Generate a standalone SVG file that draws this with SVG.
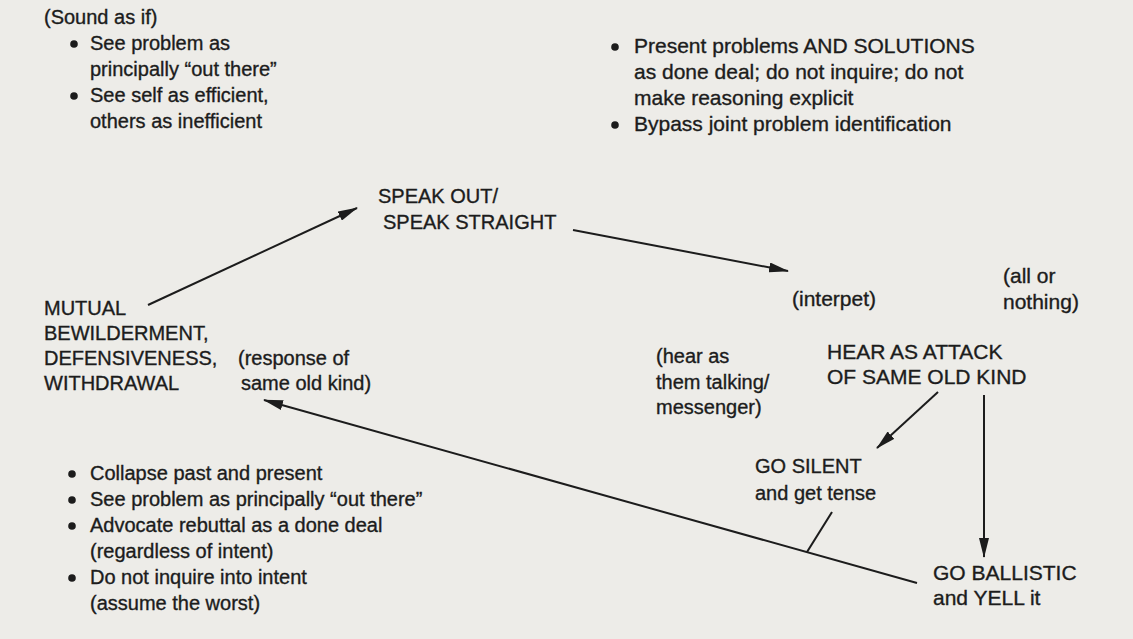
<svg xmlns="http://www.w3.org/2000/svg" width="1133" height="639" viewBox="0 0 1133 639">
<style>
text{font-family:"Liberation Sans",Arial,sans-serif;font-size:20px;fill:#1c1c1c;stroke:#1c1c1c;stroke-width:0.35}
.big{font-size:21px}
.ln{stroke:#1c1c1c;stroke-width:2;fill:none}
.dot{fill:#1c1c1c}
</style>
<defs>
<marker id="ah" viewBox="0 0 20 10" refX="19" refY="5" markerWidth="20" markerHeight="10" markerUnits="userSpaceOnUse" orient="auto">
<path d="M0,0 L20,5 L0,10 Z" fill="#1c1c1c"/>
</marker>
</defs>
<rect width="1133" height="639" fill="#edece8"/>
<g id="sound-as-if">
<text x="44" y="24">(Sound as if)</text>
<circle class="dot" cx="74" cy="44" r="3.8"/>
<text x="90" y="50">See problem as</text>
<text x="90" y="76">principally “out there”</text>
<circle class="dot" cx="74" cy="96" r="3.8"/>
<text x="90" y="102">See self as efficient,</text>
<text x="90" y="128">others as inefficient</text>
</g>
<g id="present-problems" class="big">
<circle class="dot" cx="615" cy="47" r="3.8"/>
<text class="big" x="634" y="53">Present problems AND SOLUTIONS</text>
<text class="big" x="634" y="79">as done deal; do not inquire; do not</text>
<text class="big" x="634" y="105">make reasoning explicit</text>
<circle class="dot" cx="615" cy="125" r="3.8"/>
<text class="big" x="634" y="131">Bypass joint problem identification</text>
</g>
<g id="speak-out">
<text x="378" y="203">SPEAK OUT/</text>
<text x="383" y="229">SPEAK STRAIGHT</text>
</g>
<g id="interpret">
<text class="big" x="792" y="306">(interpet)</text>
</g>
<g id="all-or-nothing">
<text class="big" x="1003" y="283">(all or</text>
<text class="big" x="1003" y="309">nothing)</text>
</g>
<g id="hear-as-messenger">
<text x="656" y="363">(hear as</text>
<text x="656" y="389">them talking/</text>
<text x="656" y="414">messenger)</text>
</g>
<g id="hear-as-attack">
<text class="big" x="827" y="359">HEAR AS ATTACK</text>
<text class="big" x="827" y="384">OF SAME OLD KIND</text>
</g>
<g id="go-silent">
<text x="755" y="473">GO SILENT</text>
<text x="755" y="500">and get tense</text>
</g>
<g id="go-ballistic">
<text class="big" x="933" y="580">GO BALLISTIC</text>
<text class="big" x="933" y="605">and YELL it</text>
</g>
<g id="mutual-bewilderment">
<text x="44" y="315">MUTUAL</text>
<text x="44" y="340">BEWILDERMENT,</text>
<text x="44" y="365">DEFENSIVENESS,</text>
<text x="44" y="390">WITHDRAWAL</text>
</g>
<g id="response-label">
<text x="238" y="365">(response of</text>
<text x="241" y="390">same old kind)</text>
</g>
<g id="bottom-bullets">
<circle class="dot" cx="72" cy="474" r="3.8"/>
<text x="90" y="480">Collapse past and present</text>
<circle class="dot" cx="72" cy="500" r="3.8"/>
<text x="90" y="506">See problem as principally “out there”</text>
<circle class="dot" cx="72" cy="526" r="3.8"/>
<text x="90" y="532">Advocate rebuttal as a done deal</text>
<text x="90" y="558">(regardless of intent)</text>
<circle class="dot" cx="72" cy="578" r="3.8"/>
<text x="90" y="584">Do not inquire into intent</text>
<text x="90" y="610">(assume the worst)</text>
</g>
<g id="connectors">
<line class="ln" x1="148" y1="305" x2="357" y2="208" marker-end="url(#ah)"/>
<line class="ln" x1="573" y1="230" x2="788" y2="271" marker-end="url(#ah)"/>
<line class="ln" x1="938" y1="392" x2="877" y2="448" marker-end="url(#ah)"/>
<line class="ln" x1="984" y1="395" x2="984" y2="557" marker-end="url(#ah)"/>
<line class="ln" x1="917" y1="583" x2="264" y2="400" marker-end="url(#ah)"/>
<line class="ln" x1="832" y1="512" x2="807" y2="552"/>
</g>
</svg>
